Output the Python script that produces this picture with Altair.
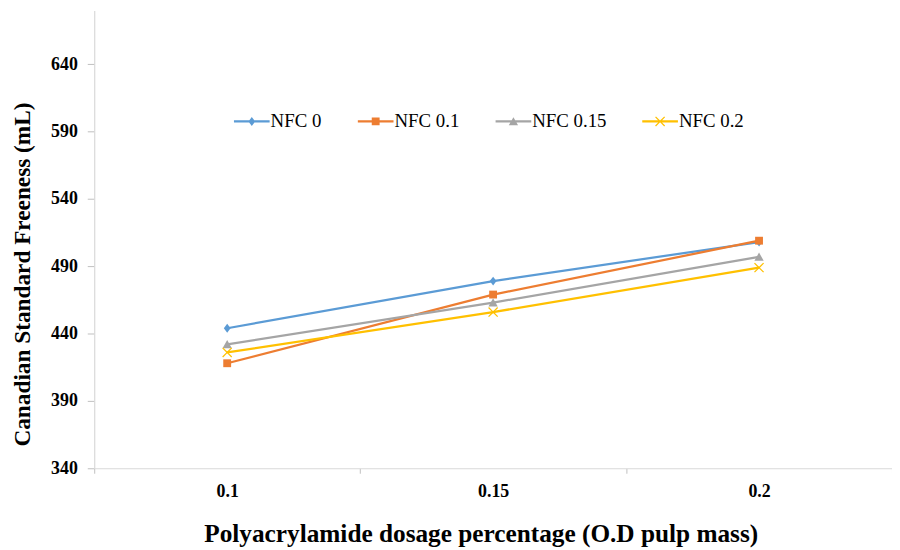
import altair as alt
import pandas as pd

series = ["NFC 0", "NFC 0.1", "NFC 0.15", "NFC 0.2"]
dosage = ["0.1", "0.15", "0.2"]
nfc0 = [444, 479, 508]
nfc01 = [418, 469, 509]
nfc015 = [432, 463, 497]
nfc02 = [426, 456, 489]

colors = ["#5B9BD5", "#ED7D31", "#A5A5A5", "#FFC000"]
markers = [
    "M0,-0.25L0.19,0L0,0.25L-0.19,0Z",
    "M-0.22,-0.22H0.22V0.22H-0.22Z",
    "M0,-0.24L0.26,0.22L-0.26,0.22Z",
    "M0,-0.05L0.23,-0.28L0.28,-0.23L0.05,0L0.28,0.23L0.23,0.28L0,0.05L-0.23,0.28L-0.28,0.23L-0.05,0L-0.28,-0.23L-0.23,-0.28Z",
]
seg = "M-1,-0.0625H1V0.0625H-1Z "
legend_symbols = [seg + m for m in markers]

rows = []
for s, vals in zip(series, [nfc0, nfc01, nfc015, nfc02]):
    for d, v in zip(dosage, vals):
        rows.append({"dosage": d, "value": v, "series": s, "series2": s})
df = pd.DataFrame(rows)

FONT = "Liberation Serif"

x_enc = alt.X(
    "dosage:N",
    sort=dosage,
    scale=alt.Scale(type="band", paddingInner=0, paddingOuter=0),
    axis=alt.Axis(
        title="Polyacrylamide dosage percentage (O.D pulp mass)",
        titleFont=FONT, titleFontSize=25.5, titleFontWeight="bold", titleColor="#000000",
        titleX=390, titleY=66, titleBaseline="middle", titleAlign="center",
        labelFont=FONT, labelFontSize=18, labelFontWeight="bold", labelColor="#000000",
        labelAngle=0, labelPadding=9,
        tickBand="extent", tickSize=5, tickColor="#bfbfbf",
        domainColor="#d9d9d9", domainWidth=1.2, grid=False,
    ),
)
y_enc = alt.Y(
    "value:Q",
    scale=alt.Scale(domain=[340, 680], nice=False, zero=False),
    axis=alt.Axis(
        values=[340, 390, 440, 490, 540, 590, 640],
        title="Canadian Standard Freeness (mL)",
        titleFont=FONT, titleFontSize=23.5, titleFontWeight="bold", titleColor="#000000",
        titleX=-72, titleY=266, titleBaseline="middle", titleAlign="center", titleAngle=270,
        labelFont=FONT, labelFontSize=18, labelFontWeight="bold", labelColor="#000000",
        labelPadding=10, tickSize=7, tickColor="#bfbfbf",
        domainColor="#d9d9d9", domainWidth=1.2, grid=False,
    ),
)

lines = alt.Chart(df).mark_line(strokeWidth=2.25).encode(
    x=x_enc,
    y=y_enc,
    color=alt.Color("series:N", sort=series,
                    scale=alt.Scale(domain=series, range=colors), legend=None),
)

points = alt.Chart(df).mark_point(filled=True, size=1296, opacity=1).encode(
    x=x_enc,
    y=y_enc,
    color=alt.Color("series:N", sort=series,
                    scale=alt.Scale(domain=series, range=colors), legend=None),
    shape=alt.Shape("series:N", sort=series,
                    scale=alt.Scale(domain=series, range=markers), legend=None),
)

legend_common = dict(
    orient="none", legendX=141, legendY=94, direction="horizontal", columns=4,
    title=None, symbolSize=1296, labelOffset=1, columnPadding=36,
    symbolStrokeWidth=0,
    labelFont=FONT, labelFontSize=19, labelFontWeight="normal", labelColor="#000000",
)

legend_layer = alt.Chart(df).mark_point(filled=True, size=1296, opacity=1).encode(
    x=x_enc,
    y=y_enc,
    color=alt.Color("series2:N", sort=series,
                    scale=alt.Scale(domain=series, range=colors),
                    legend=alt.Legend(**legend_common)),
    shape=alt.Shape("series2:N", sort=series,
                    scale=alt.Scale(domain=series, range=legend_symbols),
                    legend=alt.Legend(**legend_common)),
).transform_filter("false")

chart = (
    alt.layer(lines, points, legend_layer)
    .resolve_scale(color="independent", shape="independent")
    .resolve_legend(color="independent", shape="independent")
    .properties(
        width=805,
        height=462,
        autosize=alt.AutoSizeParams(type="none"),
        padding={"left": 87, "top": 0, "right": 0, "bottom": 78},
        background="#ffffff",
    )
    .configure(font=FONT)
    .configure_view(stroke=None)
    .configure_legend(labelFont=FONT, labelFontSize=19)
)

chart.save("out.html", embed_options={"renderer": "svg", "actions": False})
